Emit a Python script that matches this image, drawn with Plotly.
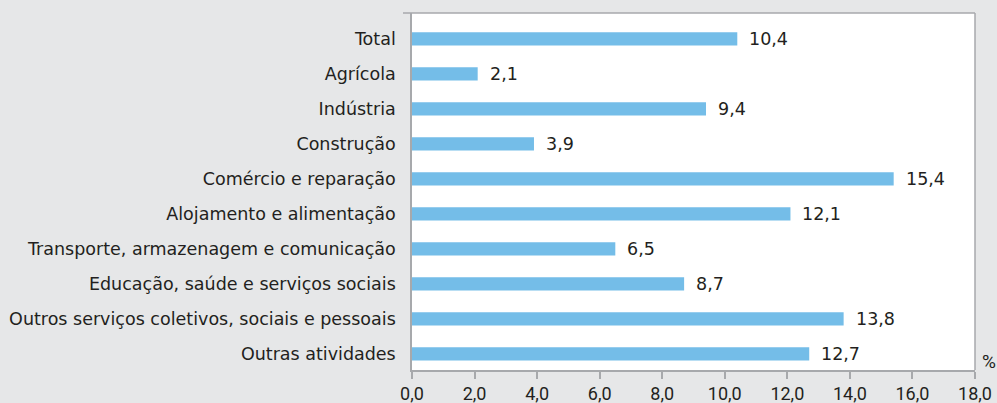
import plotly.graph_objects as go

categories = ["Total", "Agrícola", "Indústria", "Construção", "Comércio e reparação",
              "Alojamento e alimentação", "Transporte, armazenagem e comunicação",
              "Educação, saúde e serviços sociais",
              "Outros serviços coletivos, sociais e pessoais", "Outras atividades"]
values = [10.4, 2.1, 9.4, 3.9, 15.4, 12.1, 6.5, 8.7, 13.8, 12.7]
tick_vals = [0, 2, 4, 6, 8, 10, 12, 14, 16, 18]
tick_text = ["0,0", "2,0", "4,0", "6,0", "8,0", "10,0", "12,0", "14,0", "16,0", "18,0"]

BAR = "#74bde8"
BG = "#e6e7e8"
AX = "#a7a9ac"
TXT = "#231f20"
FONT = "DejaVu Sans"
FS = 17.5
TFONT = "Roboto"
TFS = 18

fig = go.Figure(go.Bar(
    x=values, y=categories, orientation="h",
    marker=dict(color=BAR, line=dict(width=0)),
    width=0.38, hoverinfo="skip",
))

for c, v in zip(categories, values):
    fig.add_annotation(x=v, y=c, text=f"{v:.1f}".replace(".", ","),
                       xanchor="left", yanchor="middle", xshift=10, showarrow=False,
                       font=dict(family=FONT, size=FS, color=TXT))

fig.add_annotation(xref="paper", yref="paper", x=1.008, y=-0.015, text="%",
                   xanchor="left", yanchor="bottom", showarrow=False,
                   font=dict(family=TFONT, size=TFS + 1, color=TXT))

fig.update_layout(
    width=997, height=403,
    margin=dict(l=412, r=22, t=13, b=33),
    paper_bgcolor=BG, plot_bgcolor="white",
    showlegend=False,
    font=dict(family=FONT, size=FS, color=TXT),
    xaxis=dict(range=[0, 18], tickvals=tick_vals, ticktext=tick_text, automargin=False,
               showgrid=False, zeroline=False, showline=True, linecolor=AX, linewidth=1.5,
               ticks="outside", ticklen=7, tickcolor=AX, tickwidth=1.5,
               mirror=False, tickfont=dict(family=TFONT, size=TFS, color=TXT)),
    yaxis=dict(range=[9.46, -0.74], showgrid=False, zeroline=False, automargin=False,
               showline=True, linecolor=AX, linewidth=1.5,
               ticks="", ticklabelstandoff=11,
               tickfont=dict(family=FONT, size=FS, color=TXT)),
)
# frame lines: top and right borders
fig.add_shape(type="line", xref="paper", yref="paper", x0=-0.016, x1=1, y0=1, y1=1,
              line=dict(color=AX, width=1.5))
fig.add_shape(type="line", xref="paper", yref="paper", x0=1, x1=1, y0=0, y1=1,
              line=dict(color=AX, width=1.5))

fig.write_html("out.html", config={"displayModeBar": False},
               post_script="document.body.style.margin='0';document.body.style.background='#e6e7e8';")
